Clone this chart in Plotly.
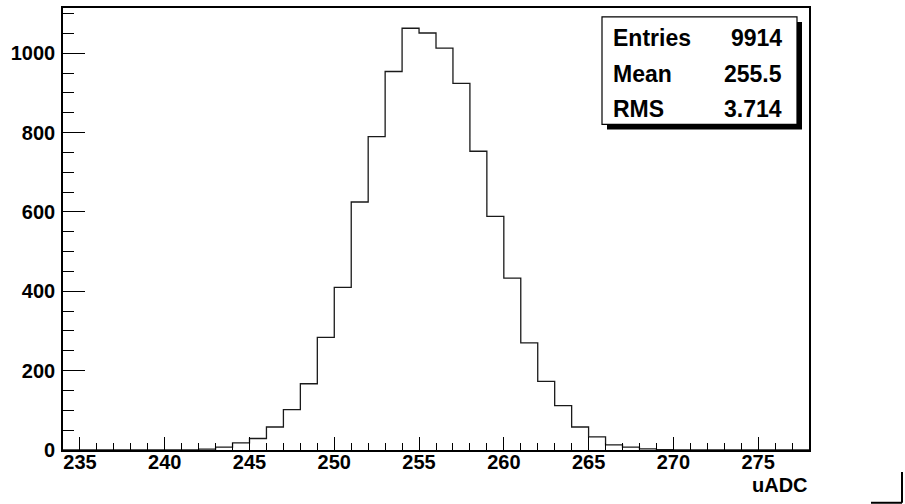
import plotly.graph_objects as go

# ---- data ----
bin_low = list(range(234, 278))  # lower edges of 1-unit bins (44 bins)
counts = [0, 0, 0, 0, 0, 0, 0, 0,
          2, 7, 18, 29, 58, 102, 167, 284, 410, 625, 790, 954,
          1063, 1051, 1013, 924, 753, 589, 433, 270, 173, 112, 58, 33,
          13, 7, 3, 1,
          0, 0, 0, 0, 0, 0, 0, 0]
stat_names = ["Entries", "Mean", "RMS"]
stat_values = ["9914", "255.5", "3.714"]
x_title = "uADC"

# ---- geometry (pixels) ----
W, H = 905, 504
L, R, T, B = 63, 96, 6, 54
PW, PH = W - L - R, H - T - B


def px(x):
    return (x - L) / PW


def py(y):
    return (H - B - y) / PH


edges = bin_low + [bin_low[-1] + 1]
yvals = counts + [counts[-1]]

fig = go.Figure()
fig.add_trace(go.Scatter(x=edges, y=yvals, mode="lines", line_shape="hv",
                         line=dict(color="#1a1a1a", width=1.3),
                         hoverinfo="skip", showlegend=False))

tickfont = dict(family="Liberation Sans", size=20, color="black", weight="bold")

fig.update_layout(
    width=W, height=H,
    margin=dict(l=L, r=R, t=T, b=B, pad=0),
    paper_bgcolor="white", plot_bgcolor="white",
    showlegend=False,
    xaxis=dict(range=[234, 278], tickmode="linear", tick0=235, dtick=5,
               ticks="inside", ticklen=13, tickwidth=1.2, tickcolor="black",
               minor=dict(tick0=234, dtick=1, ticks="inside", ticklen=7,
                          tickwidth=1.2, tickcolor="black"),
               showline=True, linewidth=1.6, linecolor="black", mirror=True,
               showgrid=False, zeroline=False, tickfont=tickfont,
               ticklabelstandoff=-7),
    yaxis=dict(range=[0, 1114], tickmode="linear", tick0=0, dtick=200,
               ticks="inside", ticklen=22, tickwidth=1.2, tickcolor="black",
               minor=dict(tick0=0, dtick=50, ticks="inside", ticklen=11,
                          tickwidth=1.2, tickcolor="black"),
               showline=True, linewidth=1.6, linecolor="black", mirror=True,
               showgrid=False, zeroline=False, tickfont=tickfont,
               ticklabelstandoff=2),
)

shapes = []
# stats box shadow + box
shapes.append(dict(type="rect", xref="paper", yref="paper",
                   x0=px(607), x1=px(802), y0=py(128), y1=py(20),
                   fillcolor="black", line=dict(width=0), layer="above"))
shapes.append(dict(type="rect", xref="paper", yref="paper",
                   x0=px(602), x1=px(797), y0=py(123), y1=py(15),
                   fillcolor="white", line=dict(color="black", width=1.2),
                   layer="above"))
# canvas corner shadow fragment (bottom right)
shapes.append(dict(type="line", xref="paper", yref="paper",
                   x0=px(902), x1=px(902), y0=py(472), y1=py(503),
                   line=dict(color="black", width=2)))
shapes.append(dict(type="line", xref="paper", yref="paper",
                   x0=px(871), x1=px(902), y0=py(503), y1=py(503),
                   line=dict(color="black", width=2)))
fig.update_layout(shapes=shapes)

statfont = dict(family="Liberation Sans", size=23, color="black", weight="bold")
row_y = [36.5, 72.5, 107.5]
for name, val, yy in zip(stat_names, stat_values, row_y):
    fig.add_annotation(xref="paper", yref="paper", x=px(611), y=py(yy),
                       text=name, showarrow=False, xanchor="left",
                       yanchor="middle", font=statfont)
    fig.add_annotation(xref="paper", yref="paper", x=px(784), y=py(yy),
                       text=val, showarrow=False, xanchor="right",
                       yanchor="middle", font=statfont)

fig.add_annotation(xref="paper", yref="paper", x=px(810), y=py(485),
                   text=x_title, showarrow=False, xanchor="right",
                   yanchor="middle",
                   font=dict(family="Liberation Sans", size=20, color="black",
                             weight="bold"))

fig.write_html("out.html", config={"displayModeBar": False},
               post_script="document.body.style.margin='0';")
